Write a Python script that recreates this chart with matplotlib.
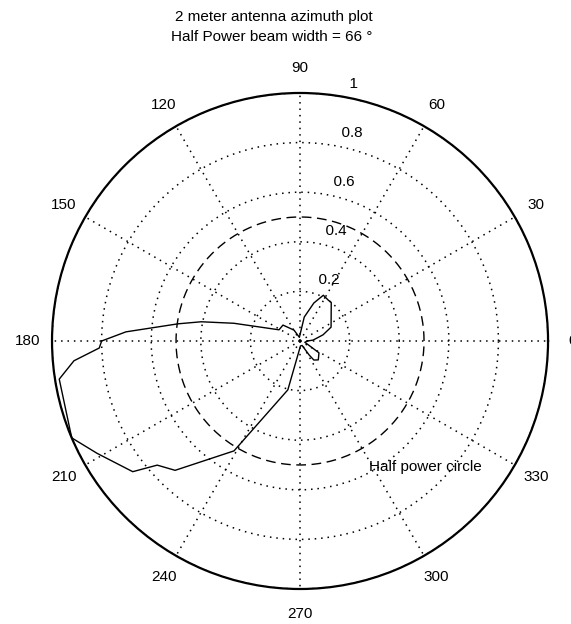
import numpy as np
import matplotlib
matplotlib.use('Agg')
import matplotlib.pyplot as plt

plt.rcParams['font.family'] = ['Liberation Sans', 'DejaVu Sans']

# measured antenna pattern (degrees, normalised amplitude)
theta_deg = [0, 4, 15, 24, 51, 55, 63, 70, 80, 100, 119, 137, 152, 165, 169,
             172, 177, 180, 182, 185, 189, 203, 209, 218, 221, 226, 239, 256,
             275, 295, 303, 306, 314, 328, 345, 360]
r_vals = [0.03, 0.053, 0.096, 0.137, 0.20, 0.20, 0.207, 0.163, 0.098, 0.015,
          0.05, 0.094, 0.096, 0.276, 0.406, 0.497, 0.703, 0.80, 0.81, 0.915,
          0.983, 1.0, 0.935, 0.856, 0.763, 0.725, 0.517, 0.203, 0.02, 0.02,
          0.067, 0.095, 0.106, 0.09, 0.02, 0.03]
half_power = 0.5
r_ticks = [0.2, 0.4, 0.6, 0.8, 1.0]
r_labels = ['0.2', '0.4', '0.6', '0.8', '1']
ang_ticks = list(range(0, 360, 30))

fig = plt.figure(figsize=(5.71, 6.24), dpi=100)
ax = fig.add_axes([0.0911, 0.0561, 0.8687, 0.7949], projection='polar')
ax.set_ylim(0, 1)

dots = (0, (1, 3.2))
ax.set_rgrids(r_ticks, labels=[''] * len(r_ticks))
ax.set_thetagrids(ang_ticks, labels=[''] * len(ang_ticks))
ax.grid(True, color='k', linestyle=dots, linewidth=1.1)
ax.spines['polar'].set_linewidth(1.6)
ax.spines['polar'].set_color('k')

th = np.deg2rad(theta_deg)
ax.plot(th, r_vals, color='k', linewidth=1.0)

circ = np.linspace(0, 2 * np.pi, 400)
ax.plot(circ, np.full_like(circ, half_power), color='k', linewidth=1.0,
        linestyle=(0, (7, 4)))

fs = 11
for a in ang_ticks:
    ax.text(np.deg2rad(a), 1.1, str(a), ha='center', va='center',
            fontsize=fs, clip_on=False)
for rv, lab in zip(r_ticks, r_labels):
    ax.text(np.deg2rad(81), rv + 0.05, '  ' + lab, ha='left', va='center',
            fontsize=fs, clip_on=False)

ax.text(np.deg2rad(298.7), 0.58, 'Half power circle', ha='left', va='center',
        fontsize=fs)

fig.text(0.48, 0.972, '2 meter antenna azimuth plot', ha='center',
         va='center', fontsize=fs)
fig.text(0.475, 0.94, 'Half Power beam width = 66 °', ha='center',
         va='center', fontsize=fs)

fig.savefig('out.png', dpi=100)
